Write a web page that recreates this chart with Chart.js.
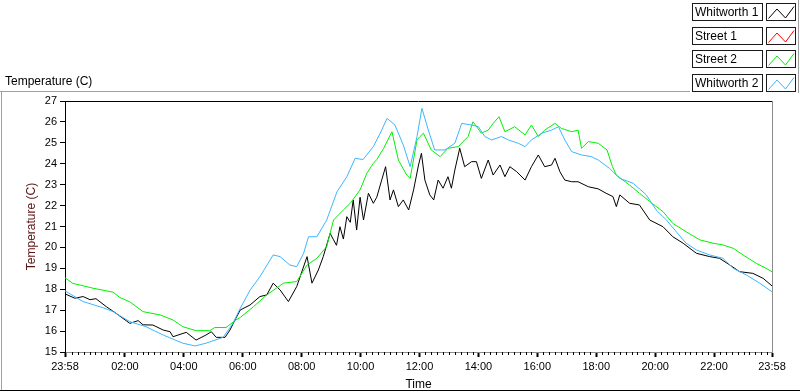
<!DOCTYPE html>
<html>
<head>
<meta charset="utf-8">
<title>Temperature (C)</title>
<script src="https://cdn.jsdelivr.net/npm/chart.js@4.4.0/dist/chart.umd.min.js"></script>
<style>
  html, body { margin: 0; padding: 0; background: #fff; }
  #wrap { width: 800px; height: 392px; }
</style>
</head>
<body>
<div id="wrap"><canvas id="chart" width="800" height="392"></canvas></div>
<script>
// time is in minutes after 23:58 (start of the logged day)
const xTickValues = [0, 122, 242, 362, 482, 602, 722, 842, 962, 1082, 1202, 1322, 1440];
const xTickLabels = ['23:58', '02:00', '04:00', '06:00', '08:00', '10:00', '12:00',
  '14:00', '16:00', '18:00', '20:00', '22:00', '23:58'];
const yTickValues = [15, 16, 17, 18, 19, 20, 21, 22, 23, 24, 25, 26, 27];

const seriesNames = ['Whitworth 1', 'Street 1', 'Street 2', 'Whitworth 2'];
const seriesColors = ['#000000', '#ff0000', '#00f000', '#3db5ff'];

const whitworth1Times = [0, 20, 37, 51, 63, 84, 104, 132, 149, 159, 179, 200, 214, 220, 247, 267,
  287, 298, 308, 326, 336, 348, 357, 377, 397, 411, 424, 438, 455, 472, 493, 503, 516, 526, 540,
  547, 553, 560, 567, 574, 581, 587, 594, 601, 608, 618, 628, 635, 645, 653, 662, 669, 679, 689,
  700, 710, 720, 726, 733, 743, 751, 760, 770, 780, 787, 794, 804, 814, 828, 838, 848, 862, 872,
  886, 896, 906, 920, 937, 950, 964, 977, 991, 998, 1008, 1018, 1032, 1045, 1066, 1086, 1102,
  1116, 1123, 1130, 1150, 1170, 1191, 1218, 1238, 1259, 1286, 1313, 1333, 1354, 1374, 1401,
  1422, 1440];
const whitworth1Temps = [17.78, 17.57, 17.65, 17.5, 17.55, 17.17, 16.85, 16.37, 16.5, 16.3, 16.29,
  16.05, 15.97, 15.73, 15.94, 15.57, 15.81, 15.97, 15.7, 15.7, 16.05, 16.61, 17.01, 17.25, 17.65,
  17.73, 18.29, 17.97, 17.41, 18.13, 19.56, 18.29, 18.92, 19.56, 20.67, 20.36, 20.1, 20.99, 20.4,
  21.47, 21.2, 22.27, 20.83, 22.4, 21.31, 22.59, 22.11, 22.4, 23.22, 23.86, 22.27, 22.75, 21.95,
  22.27, 21.79, 22.75, 23.94, 24.5, 23.22, 22.51, 22.27, 23.22, 22.83, 23.38, 22.83, 23.7, 24.74,
  23.86, 24.1, 24.1, 23.3, 24.18, 23.46, 23.94, 23.38, 23.86, 23.62, 23.22, 23.86, 24.42, 23.86,
  23.94, 24.26, 23.62, 23.22, 23.14, 23.14, 22.9, 22.8, 22.59, 22.43, 21.95, 22.51, 22.11, 22.03,
  21.31, 20.99, 20.51, 20.2, 19.72, 19.56, 19.48, 19.16, 18.84, 18.76, 18.52, 18.16];

// Street 1 has no visible trace in the picture
const street1Times = [];
const street1Temps = [];

const street2Times = [0, 16, 31, 57, 98, 112, 132, 159, 194, 220, 240, 267, 295, 305, 328, 348,
  357, 384, 411, 445, 472, 493, 513, 533, 547, 567, 581, 601, 615, 628, 635, 649, 666, 679, 696,
  703, 717, 723, 730, 746, 764, 780, 801, 821, 831, 848, 862, 872, 884, 896, 916, 937, 950, 964,
  977, 998, 1011, 1032, 1045, 1052, 1066, 1086, 1104, 1115, 1123, 1150, 1170, 1191, 1218, 1238,
  1265, 1293, 1320, 1340, 1361, 1381, 1408, 1428, 1440];
const street2Temps = [18.55, 18.28, 18.2, 18.05, 17.86, 17.6, 17.4, 16.93, 16.77, 16.53, 16.21,
  16.02, 16.02, 16.17, 16.17, 16.53, 16.65, 17.17, 17.73, 18.29, 18.37, 19.16, 19.48, 20.04, 21.31,
  21.79, 22.11, 22.75, 23.55, 24.02, 24.2, 24.74, 25.53, 24.18, 23.46, 23.3, 25.14, 25.3, 25.46,
  24.66, 24.34, 24.74, 24.82, 25.3, 26.01, 25.46, 25.61, 25.93, 26.25, 25.53, 25.77, 25.38, 25.85,
  25.3, 25.61, 25.93, 25.69, 25.53, 25.61, 24.74, 25.06, 24.98, 24.66, 23.86, 23.46, 22.98, 22.59,
  22.19, 21.71, 21.15, 20.75, 20.36, 20.2, 20.12, 19.96, 19.64, 19.24, 19.0, 18.84];

const whitworth2Times = [0, 37, 77, 98, 132, 165, 200, 240, 265, 287, 322, 342, 357, 377, 397, 424,
  438, 458, 472, 486, 496, 513, 533, 554, 574, 591, 607, 628, 642, 656, 672, 689, 703, 717, 727,
  740, 753, 774, 794, 808, 828, 842, 855, 869, 889, 903, 923, 937, 950, 971, 991, 1005, 1018,
  1032, 1052, 1072, 1086, 1109, 1130, 1157, 1184, 1204, 1225, 1245, 1265, 1286, 1313, 1340, 1361,
  1388, 1415, 1440];
const whitworth2Temps = [17.92, 17.41, 17.12, 16.93, 16.45, 16.21, 15.81, 15.42, 15.29, 15.42,
  15.7, 16.37, 17.09, 17.96, 18.6, 19.64, 19.56, 19.16, 19.08, 19.72, 20.51, 20.51, 21.31, 22.66,
  23.38, 24.26, 24.2, 24.82, 25.46, 26.17, 25.85, 24.9, 23.86, 25.3, 26.65, 25.61, 24.66, 24.66,
  24.98, 25.93, 25.85, 25.77, 25.3, 25.14, 25.3, 25.14, 24.98, 24.82, 25.14, 25.46, 25.61, 25.77,
  25.14, 24.58, 24.42, 24.34, 24.18, 23.78, 23.3, 23.07, 22.51, 21.79, 21.31, 20.75, 20.2, 19.88,
  19.64, 19.48, 19.0, 18.68, 18.29, 17.88];

const seriesTimes = [whitworth1Times, street1Times, street2Times, whitworth2Times];
const seriesTemps = [whitworth1Temps, street1Temps, street2Temps, whitworth2Temps];

const FONT = "'Liberation Sans', Arial, sans-serif";

// minor ticks, frame lines, plot title and the legend
const decorPlugin = {
  id: 'decor',
  afterDraw(chart) {
    const ctx = chart.ctx;
    const area = chart.chartArea;
    const xs = chart.scales.x;
    ctx.save();

    // minor ticks every 12 minutes
    ctx.strokeStyle = '#000';
    ctx.lineWidth = 1;
    ctx.beginPath();
    for (let m = 14; m < 1440; m += 12) {
      if (xTickValues.includes(m)) continue;
      const px = Math.round(xs.getPixelForValue(m)) + 0.5;
      ctx.moveTo(px, area.bottom);
      ctx.lineTo(px, area.bottom + 3);
    }
    ctx.stroke();

    // plot frame: top dark, right grey
    ctx.beginPath();
    ctx.strokeStyle = '#000';
    ctx.moveTo(area.left, Math.round(area.top) + 0.5);
    ctx.lineTo(area.right, Math.round(area.top) + 0.5);
    ctx.stroke();
    ctx.beginPath();
    ctx.strokeStyle = '#8c8c8c';
    ctx.moveTo(Math.round(area.right) + 0.5, area.top);
    ctx.lineTo(Math.round(area.right) + 0.5, area.bottom);
    ctx.stroke();

    // outer frame
    ctx.beginPath();
    ctx.strokeStyle = '#a0a0a0';
    ctx.moveTo(0, 91.5);
    ctx.lineTo(690, 91.5);
    ctx.moveTo(1.5, 91.5);
    ctx.lineTo(1.5, 391);
    ctx.moveTo(798.5, 0);
    ctx.lineTo(798.5, 93);
    ctx.stroke();
    ctx.beginPath();
    ctx.strokeStyle = '#000';
    ctx.moveTo(0, 390.5);
    ctx.lineTo(800, 390.5);
    ctx.stroke();

    // plot title
    ctx.fillStyle = '#000';
    ctx.font = '12px ' + FONT;
    ctx.textAlign = 'left';
    ctx.textBaseline = 'middle';
    ctx.fillText('Temperature (C)', 5, 82);

    // legend
    chart.data.datasets.forEach((ds, i) => {
      const top = Math.round(3 + i * 23.5) + 0.5;
      ctx.fillStyle = '#fff';
      ctx.fillRect(692.5, top, 70, 17);
      ctx.fillRect(766.5, top, 29, 17);
      ctx.strokeStyle = '#1a1a1a';
      ctx.strokeRect(692.5, top, 70, 17);
      ctx.strokeRect(766.5, top, 29, 17);
      ctx.fillStyle = '#000';
      ctx.fillText(ds.label, 695, top + 9);
      ctx.beginPath();
      ctx.strokeStyle = ds.borderColor;
      ctx.moveTo(768.5, top + 15);
      ctx.lineTo(777, top + 5.5);
      ctx.lineTo(785.5, top + 14.5);
      ctx.lineTo(794, top + 3);
      ctx.stroke();
    });

    ctx.restore();
  }
};

const datasets = seriesNames.map((name, i) => ({
  label: name,
  data: seriesTimes[i].map((t, j) => ({ x: t, y: seriesTemps[i][j] })),
  borderColor: seriesColors[i],
  backgroundColor: seriesColors[i],
  borderWidth: 1,
  pointRadius: 0,
  tension: 0,
  fill: false
}));
// draw the first plot underneath, like the original
datasets.forEach((ds, i) => { ds.order = seriesNames.length - i; });

new Chart(document.getElementById('chart'), {
  type: 'line',
  data: { datasets: datasets },
  options: {
    responsive: false,
    animation: false,
    layout: { padding: { top: 101, right: 28, left: 0, bottom: 0 } },
    plugins: {
      legend: { display: false },
      tooltip: { enabled: false }
    },
    scales: {
      x: {
        type: 'linear',
        min: 0,
        max: 1440,
        afterBuildTicks: s => { s.ticks = xTickValues.map(v => ({ value: v })); },
        afterFit: s => { s.height = 40; },
        ticks: {
          autoSkip: false,
          maxRotation: 0,
          padding: 3,
          color: '#000',
          font: { family: FONT, size: 11 },
          callback: (v, i) => xTickLabels[i]
        },
        grid: { drawOnChartArea: false, tickLength: 5, tickWidth: 2, tickColor: '#000' },
        border: { color: '#8c8c8c', width: 1 },
        title: {
          display: true,
          text: 'Time',
          color: '#000',
          font: { family: FONT, size: 12 },
          padding: { top: 0, bottom: 0 }
        }
      },
      y: {
        min: 15,
        max: 27,
        afterBuildTicks: s => { s.ticks = yTickValues.map(v => ({ value: v })); },
        afterFit: s => { s.width = 65; },
        ticks: {
          padding: 3,
          color: '#000',
          font: { family: FONT, size: 11 }
        },
        grid: { drawOnChartArea: false, tickLength: 5, tickColor: '#000' },
        border: { color: '#000', width: 1 },
        title: {
          display: true,
          text: 'Temperature (C)',
          color: '#5a1414',
          font: { family: FONT, size: 12 },
          padding: { top: 24, bottom: 0 }
        }
      }
    }
  },
  plugins: [decorPlugin]
});
</script>
</body>
</html>
